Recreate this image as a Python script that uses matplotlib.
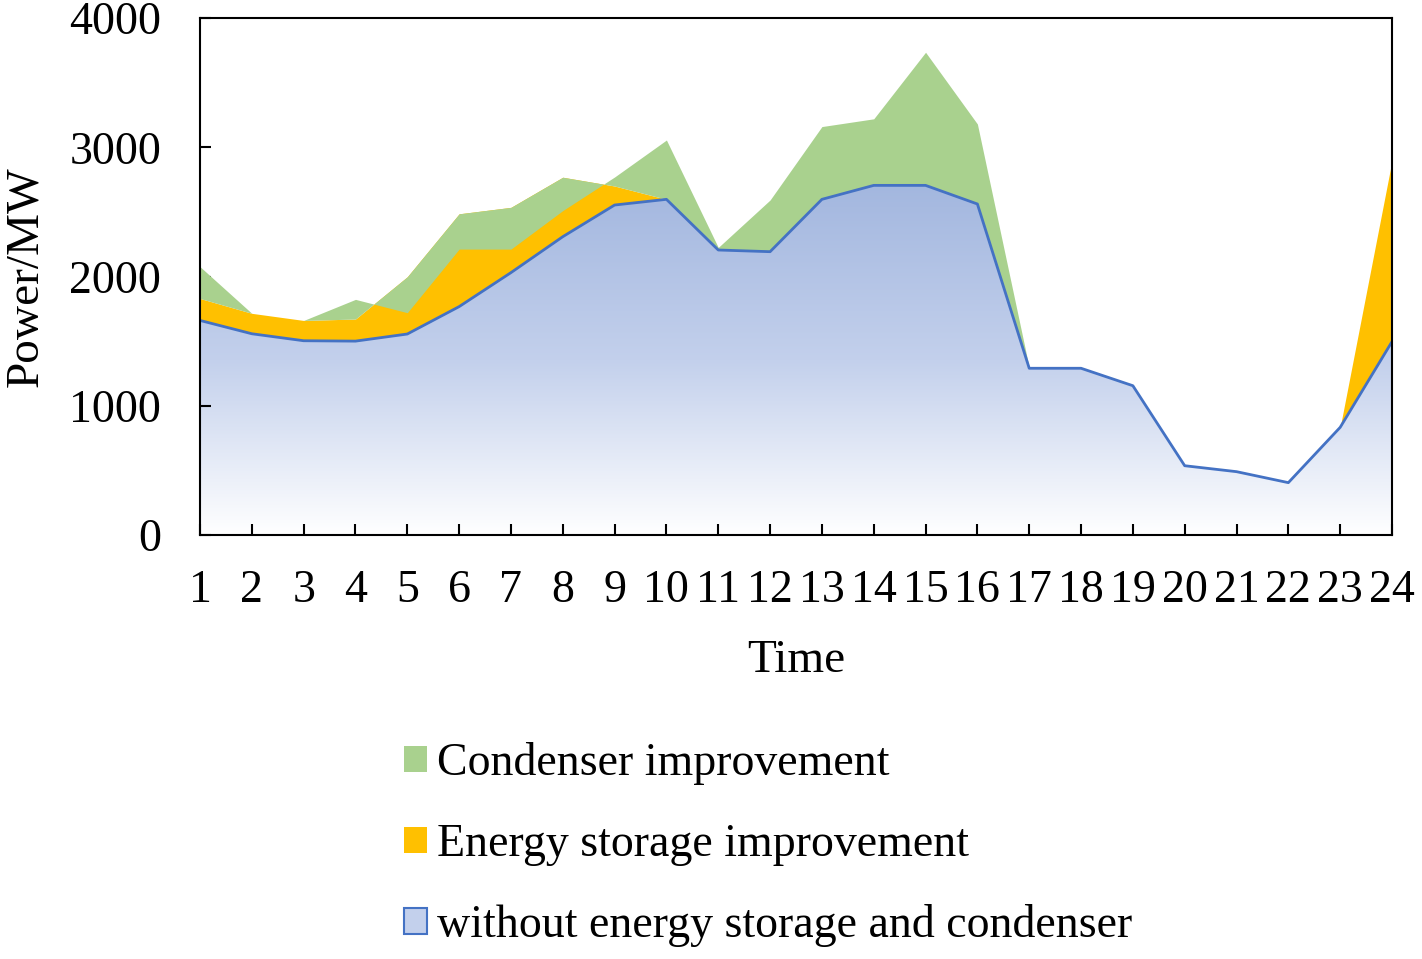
import numpy as np
import matplotlib
matplotlib.use('Agg')
import matplotlib.pyplot as plt
from matplotlib.patches import Patch, Polygon
from matplotlib.colors import LinearSegmentedColormap

plt.rcParams['font.family'] = ['Liberation Serif', 'DejaVu Serif']

# hourly data (MW)
hours = np.arange(1, 25)
base = [1660, 1557, 1503, 1500, 1555, 1767, 2030, 2308, 2553, 2597, 2205, 2192,
        2597, 2705, 2705, 2561, 1290, 1290, 1155, 536, 490, 405, 833, 1496]
# stacked increments (condenser can be negative, as in the original stacked area)
storage_inc = [170, 158, 157, 171, 443, 718, 505, 460, 147, 0, 0, 0,
               0, 0, 0, 0, 0, 0, 0, 0, 0, 0, 0, 1400]
condenser_inc = [246, 0, 0, 152, -278, -273, -323, -258, 70, 459, 20, 400,
                 563, 515, 1030, 619, 5, 0, 0, 0, 0, 0, 0, 0]

labels = ['Condenser improvement', 'Energy storage improvement',
          'without energy storage and condenser']

green = '#a9d18e'
orange = '#ffc000'
blue = '#4472c4'

base = np.array(base, dtype=float)
s1 = base + np.array(storage_inc)
s2 = s1 + np.array(condenser_inc)

fig = plt.figure(figsize=(14.22, 9.59), dpi=100)
ax = fig.add_axes([200/1422, 1-535/959, 1192/1422, 517/959])

# base area with vertical gradient fill
cmap = LinearSegmentedColormap.from_list('bl', [(0, '#ffffff'), (0.5, '#c3d0ec'), (1, '#a3b7df')])
grad = np.linspace(0, 1, 256).reshape(-1, 1)
im = ax.imshow(grad, cmap=cmap, origin='lower', aspect='auto',
               extent=[hours[0], hours[-1], 0, base.max()], zorder=1)
verts = list(zip(hours, base)) + [(hours[-1], 0), (hours[0], 0)]
clip = Polygon(verts, closed=True, facecolor='none', edgecolor='none')
ax.add_patch(clip)
im.set_clip_path(clip)

ax.fill_between(hours, base, s1, color=orange, linewidth=0, zorder=2)
ax.fill_between(hours, s1, s2, color=green, linewidth=0, zorder=3)
ax.plot(hours, base, color=blue, linewidth=2, zorder=4)
ax.vlines(hours[-1], 0, base[-1], color=blue, linewidth=2, zorder=4)

ax.set_xlim(1, 24)
ax.set_ylim(0, 4000)
ax.set_xticks(hours)
ax.set_yticks([0, 1000, 2000, 3000, 4000])
ax.tick_params(axis='both', direction='in', length=8, width=1.5, labelsize=33)
ax.tick_params(axis='y', pad=28)
ax.tick_params(axis='x', pad=25)
for sp in ax.spines.values():
    sp.set_linewidth(1.5)
    sp.set_zorder(5)
ax.set_xlabel('Time', fontsize=34, labelpad=20)
ax.set_ylabel('Power/MW', fontsize=34, labelpad=16)

handles = [Patch(facecolor=green, edgecolor='none'),
           Patch(facecolor=orange, edgecolor='none'),
           Patch(facecolor='#c3d0ec', edgecolor=blue, linewidth=1.5)]
fig.legend(handles, labels, loc='upper left', bbox_to_anchor=(0.271, 0.245),
           frameon=False, fontsize=33, handlelength=0.5, handleheight=0.5,
           handletextpad=0.22, labelspacing=0.83, borderaxespad=0)

fig.savefig('out.png', dpi=100)
